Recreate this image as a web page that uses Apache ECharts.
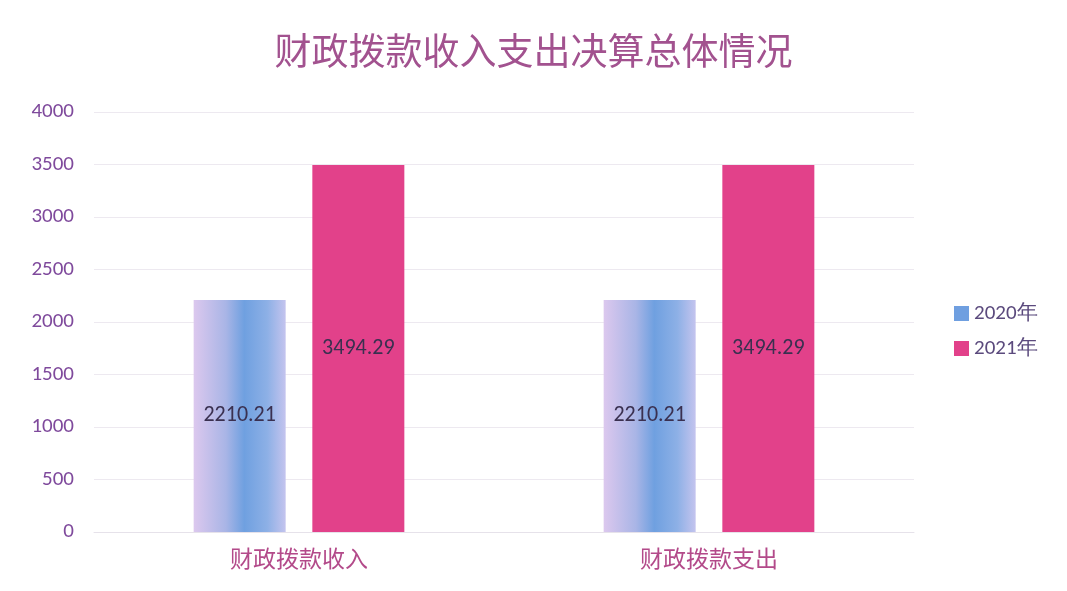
<!DOCTYPE html>
<html><head><meta charset="utf-8">
<script src="https://cdn.jsdelivr.net/npm/echarts@6/dist/echarts.min.js"></script>
<style>html,body{margin:0;padding:0;background:#fff}#c{width:1067px;height:591px}</style>
</head><body><div id="c"></div>
<script>
const categories = ['财政拨款收入', '财政拨款支出'];
const seriesNames = ['2020年', '2021年'];
const values2020 = [2210.21, 2210.21];
const values2021 = [3494.29, 3494.29];
const yTicks = [0, 500, 1000, 1500, 2000, 2500, 3000, 3500, 4000];

const chart = echarts.init(document.getElementById('c'));
const font = '"Noto Sans CJK SC", "Noto Sans", sans-serif';
const numFont = 'Calibri, Carlito, "Open Sans", "Noto Sans", sans-serif';
const lbl = {show: true, position: 'inside', color: '#3a3050', fontSize: 22, fontFamily: numFont};
chart.setOption({
  backgroundColor: '#ffffff',
  title: {text: '财政拨款收入支出决算总体情况', left: 'center', top: 27,
    textStyle: {color: '#a2528f', fontSize: 37, fontWeight: 'normal', fontFamily: font}},
  legend: {orient: 'vertical', left: 949, top: 298, icon: 'rect', itemWidth: 15, itemHeight: 15, itemGap: 14,
    textStyle: {color: '#5b4a7d', fontSize: 21, fontFamily: numFont},
    data: [{name: seriesNames[0], itemStyle: {color: '#6f9fe0'}}, {name: seriesNames[1]}]},
  grid: {left: 94, right: 153, top: 112, bottom: 59},
  xAxis: {type: 'category', data: categories,
    axisLine: {show: true, lineStyle: {color: '#e6e2ea'}}, axisTick: {show: false},
    axisLabel: {color: '#b34a8a', fontSize: 23, fontFamily: font, margin: 15}},
  yAxis: {type: 'value', min: yTicks[0], max: yTicks[yTicks.length - 1], interval: 500,
    axisLine: {show: false}, axisTick: {show: false},
    axisLabel: {color: '#7f4a9c', fontSize: 21, fontFamily: numFont, margin: 20, formatter: v => String(v)},
    splitLine: {lineStyle: {color: '#ede9f0'}}},
  series: [
    {name: seriesNames[0], type: 'bar', data: values2020, barWidth: 92, barGap: '29%',
      itemStyle: {color: {type: 'linear', x: 0, y: 0, x2: 1, y2: 0, colorStops: [
        {offset: 0, color: '#dcc8ee'}, {offset: 0.35, color: '#a9b5e6'}, {offset: 0.55, color: '#6fa0e0'},
        {offset: 0.8, color: '#8db0e6'}, {offset: 1, color: '#c4c4ee'}]}},
      label: lbl},
    {name: seriesNames[1], type: 'bar', data: values2021, barWidth: 92,
      itemStyle: {color: '#e2418a'}, label: lbl}
  ]
});
</script></body></html>
